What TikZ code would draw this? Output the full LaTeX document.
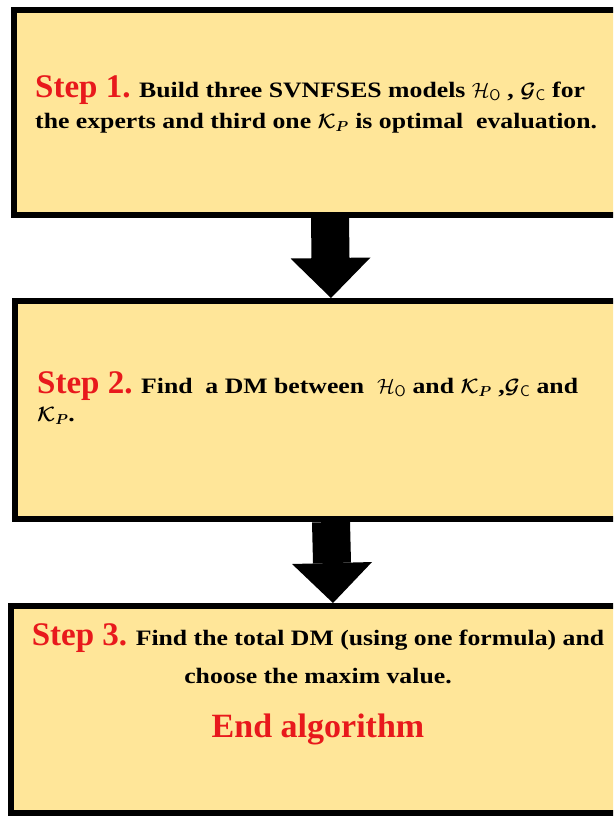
\documentclass[tikz,border=0pt]{standalone}
\usepackage{amsmath,amssymb}
\usepackage{bm}
\usepackage{fontspec}
\setmainfont{Liberation Serif}
\newfontfamily\widefont[FakeStretch=1.17]{Liberation Serif}
\usetikzlibrary{arrows.meta,positioning}
\definecolor{boxfill}{HTML}{FFE699}
\definecolor{stepred}{HTML}{E8191C}
\newcommand{\steplbl}[1]{{\normalfont\bfseries\fontsize{33}{36}\selectfont\color{stepred}Step #1.}}

\begin{document}
\begin{tikzpicture}[x=1pt,y=-1pt,
  stepbox/.style={draw,line width=6pt,fill=boxfill,minimum width=632pt,inner sep=0pt},
  steptext/.style={font=\widefont\bfseries\fontsize{22}{31}\selectfont,inner sep=0pt},
  fat/.style={line width=38pt,-{Triangle[length=40pt,width=80pt,line width=0pt]}}]
\clip (0,0) rectangle (613,816);
\node[stepbox,minimum height=205pt] (b1) at (330,112.5) {};
\node[stepbox,minimum height=218pt] (b2) at (331,410) {};
\node[stepbox,minimum width=644pt,minimum height=207pt] (b3) at (333,709.5) {};
% step texts (anchored on their last line)
\node[steptext,anchor=base west,align=left] (t1) at (35,128)
  {\steplbl{1} Build three SVNFSES models $\mathcal{H}_{\mathsf{O}}$ , $\bm{\mathcal{G}}_{\mathsf{C}}$ for\\
   the experts and third one $\bm{\mathcal{K}_P}$ is optimal~\ evaluation.};
\node[steptext,anchor=base west,align=left,font=\widefont\bfseries\fontsize{22}{28}\selectfont] (t2) at (37,421)
  {\steplbl{2} Find~\ a DM between~\ $\mathcal{H}_{\mathsf{O}}$ and $\bm{\mathcal{K}_P}$ ,$\bm{\mathcal{G}}_{\mathsf{C}}$ and\\
   $\bm{\mathcal{K}_P}$.};
\node[steptext,anchor=base,align=center,font=\widefont\bfseries\fontsize{22}{38}\selectfont] (t3) at (318,737)
  {\steplbl{3} Find the total DM (using one formula) and\\
   choose the maxim value.\\[16pt]
   {\normalfont\bfseries\fontsize{34}{40}\selectfont\color{stepred}End algorithm}};
% arrows between steps
\draw[fat] (b1.south) -- (b2.north);
\draw[fat] (b2.south) -- (b3.north);
\end{tikzpicture}
\end{document}
